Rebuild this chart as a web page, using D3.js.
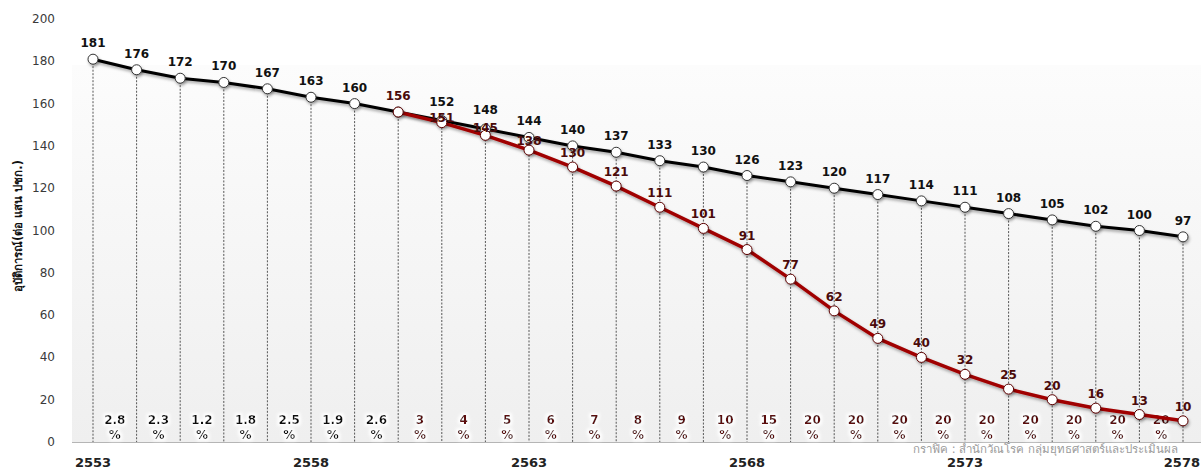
<!DOCTYPE html>
<html>
<head>
<meta charset="utf-8">
<script src="https://cdn.jsdelivr.net/npm/d3@7"></script>
<style>
  body { margin: 0; background: #fff; }
  svg { display: block; font-family: "DejaVu Sans", Verdana, sans-serif; }
</style>
</head>
<body>
<svg width="1201" height="472"></svg>
<script>

var years = d3.range(2553, 2579);
var blackVals = [181, 176, 172, 170, 167, 163, 160, 156, 152, 148, 144, 140, 137, 133, 130, 126, 123, 120, 117, 114, 111, 108, 105, 102, 100, 97];
var redYears = d3.range(2560, 2579);
var redVals = [156, 151, 145, 138, 130, 121, 111, 101, 91, 77, 62, 49, 40, 32, 25, 20, 16, 13, 10];
var pctLabels = ["2.8", "2.3", "1.2", "1.8", "2.5", "1.9", "2.6", "3", "4", "5", "6", "7", "8", "9", "10", "15", "20", "20", "20", "20", "20", "20", "20", "20", "20"];
var yTicks = [0, 20, 40, 60, 80, 100, 120, 140, 160, 180, 200];
var xTicks = [2553, 2558, 2563, 2568, 2573, 2578];

var svg = d3.select("svg");

var x = d3.scaleLinear().domain([2553, 2578]).range([93, 1183]);
var y = d3.scaleLinear().domain([0, 200]).range([442, 19]);

var defs = svg.append("defs");
var grad = defs.append("linearGradient")
    .attr("id", "bg").attr("x1", 0).attr("y1", 0).attr("x2", 0).attr("y2", 1);
grad.append("stop").attr("offset", "0%").attr("stop-color", "#fcfcfc");
grad.append("stop").attr("offset", "100%").attr("stop-color", "#efefef");

var shadow = defs.append("filter").attr("id", "shadow")
    .attr("x", "-10%").attr("y", "-10%").attr("width", "120%").attr("height", "140%");
shadow.append("feDropShadow").attr("dx", 1).attr("dy", 2).attr("stdDeviation", 1.5)
    .attr("flood-color", "#000").attr("flood-opacity", 0.35);

var glow = defs.append("filter").attr("id", "glow")
    .attr("x", "-30%").attr("y", "-30%").attr("width", "160%").attr("height", "160%");
glow.append("feMorphology").attr("in", "SourceAlpha").attr("operator", "dilate").attr("radius", 2).attr("result", "d");
glow.append("feGaussianBlur").attr("in", "d").attr("stdDeviation", 1.5).attr("result", "b");
glow.append("feFlood").attr("flood-color", "#fff");
glow.append("feComposite").attr("in2", "b").attr("operator", "in").attr("result", "w");
var gm = glow.append("feMerge");
gm.append("feMergeNode").attr("in", "w");
gm.append("feMergeNode").attr("in", "SourceGraphic");

// plot area
svg.append("rect")
    .attr("x", 72).attr("y", 65)
    .attr("width", 1201 - 72).attr("height", y(0) - 65)
    .attr("fill", "url(#bg)");

// y axis tick labels
svg.selectAll(".ytick")
    .data(yTicks)
    .enter()
    .append("text")
    .attr("class", "ytick")
    .attr("x", 55)
    .attr("y", function(d) { return y(d) + 4; })
    .attr("text-anchor", "end")
    .style("font-size", "12px")
    .style("fill", "#3a3a3a")
    .text(function(d) { return d; });

// y title
svg.append("text")
    .attr("transform", "translate(22," + 226 + ") rotate(-90)")
    .attr("text-anchor", "middle")
    .style("font-size", "11.5px")
    .style("font-weight", "bold")
    .style("fill", "#111")
    .text("อุบัติการณ์(ต่อ แสน ปชก.)");

// dotted drop lines
svg.selectAll(".drop")
    .data(years)
    .enter()
    .append("line")
    .attr("class", "drop")
    .attr("x1", function(d) { return x(d); })
    .attr("x2", function(d) { return x(d); })
    .attr("y1", function(d, i) { return y(blackVals[i]); })
    .attr("y2", y(0))
    .style("stroke", "#555")
    .style("stroke-width", 1)
    .style("stroke-dasharray", "2,1.5");

// axis line
svg.append("line")
    .attr("x1", 72).attr("x2", 1201)
    .attr("y1", y(0) + 0.5).attr("y2", y(0) + 0.5)
    .style("stroke", "#b5b5b5");

// percent labels
var pct = svg.append("g").attr("filter", "url(#glow)");
pct.selectAll(".pct")
    .data(pctLabels)
    .enter()
    .append("text")
    .attr("x", function(d, i) { return x(2553 + i + 0.5); })
    .attr("y", 424)
    .attr("text-anchor", "middle")
    .style("font-size", "12px")
    .style("font-weight", "bold")
    .style("fill", function(d, i) { return i < 7 ? "#111" : "#5c0a0a"; })
    .each(function(d) {
        var t = d3.select(this);
        t.append("tspan").attr("x", t.attr("x")).text(d);
        t.append("tspan").attr("x", t.attr("x")).attr("dy", 15).text("%");
    });

var line = d3.line()
    .x(function(d) { return x(d[0]); })
    .y(function(d) { return y(d[1]); });

var blackData = years.map(function(d, i) { return [d, blackVals[i]]; });
var redData = redYears.map(function(d, i) { return [d, redVals[i]]; });

svg.append("path")
    .datum(blackData)
    .attr("d", line)
    .attr("fill", "none")
    .attr("stroke", "#000")
    .attr("stroke-width", 3)
    .attr("filter", "url(#shadow)");

svg.append("path")
    .datum(redData)
    .attr("d", line)
    .attr("fill", "none")
    .attr("stroke", "#a00000")
    .attr("stroke-width", 3.5)
    .attr("filter", "url(#shadow)");

var markers = svg.append("g").attr("filter", "url(#shadow)");
markers.selectAll(".mb")
    .data(blackData)
    .enter()
    .append("circle")
    .attr("cx", function(d) { return x(d[0]); })
    .attr("cy", function(d) { return y(d[1]); })
    .attr("r", 5)
    .style("fill", "#fff")
    .style("stroke", "#333")
    .style("stroke-width", 1);

markers.selectAll(".mr")
    .data(redData)
    .enter()
    .append("circle")
    .attr("cx", function(d) { return x(d[0]); })
    .attr("cy", function(d) { return y(d[1]); })
    .attr("r", 5)
    .style("fill", "#fff")
    .style("stroke", "#5a0000")
    .style("stroke-width", 1);

// value labels - the ones where both lines run close get nudged apart
function blackOff(yr) { return (yr === 2561 || yr === 2562) ? -15 : -12; }
function redOff(yr) {
    if (yr === 2561) return -1;
    if (yr === 2562) return -3;
    if (yr === 2563) return -5;
    return -10;
}

svg.selectAll(".lb")
    .data(blackData)
    .enter()
    .append("text")
    .attr("x", function(d) { return x(d[0]); })
    .attr("y", function(d) { return y(d[1]) + blackOff(d[0]); })
    .attr("text-anchor", "middle")
    .style("font-size", "12px")
    .style("font-weight", "bold")
    .style("fill", function(d) { return d[0] === 2560 ? "#4a0a0a" : "#111"; })
    .text(function(d) { return d[1]; });

svg.selectAll(".lr")
    .data(redData.slice(1))
    .enter()
    .append("text")
    .attr("x", function(d) { return x(d[0]); })
    .attr("y", function(d) { return y(d[1]) + redOff(d[0]); })
    .attr("text-anchor", "middle")
    .style("font-size", "12px")
    .style("font-weight", "bold")
    .style("fill", "#4a0a0a")
    .text(function(d) { return d[1]; });

// x axis labels (last one pinned to the right edge)
svg.selectAll(".xtick")
    .data(xTicks)
    .enter()
    .append("text")
    .attr("x", function(d) { return d === 2578 ? 1200 : x(d); })
    .attr("y", 467)
    .attr("text-anchor", function(d) { return d === 2578 ? "end" : "middle"; })
    .style("font-size", "13px")
    .style("font-weight", "bold")
    .style("fill", "#222")
    .text(function(d) { return d; });

// source
svg.append("text")
    .attr("x", 1178)
    .attr("y", 453)
    .attr("text-anchor", "end")
    .style("font-size", "11.5px")
    .style("fill", "#9a9a9a")
    .text("กราฟิค : สำนักวัณโรค กลุ่มยุทธศาสตร์และประเมินผล");

</script>
</body>
</html>
